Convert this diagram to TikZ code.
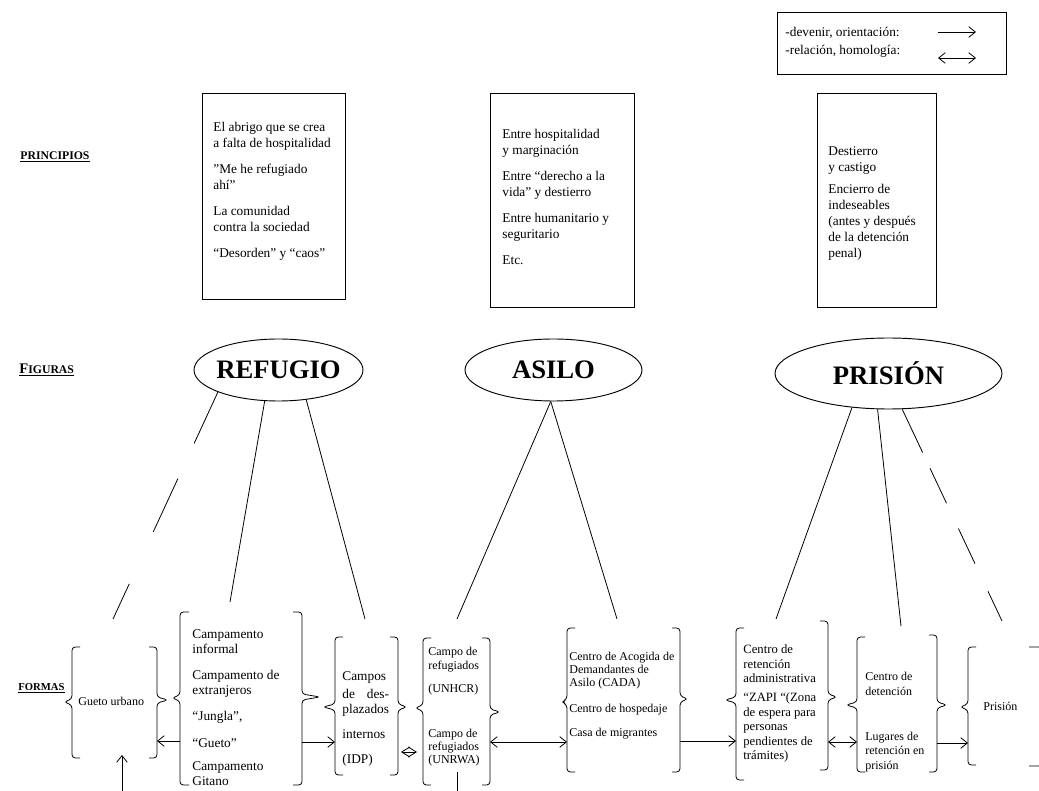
\documentclass[tikz,border=0pt]{standalone}
\usepackage{fontspec}
\setmainfont{Liberation Serif}
\usetikzlibrary{arrows.meta,shapes.geometric}
\newcommand\Lbr[6]{\draw[brc] ({#1+#6},#2) -- (#1,#2) -- (#1,{#4-3}) -- ({#1-#5},#4) -- (#1,{#4+3}) -- (#1,#3) -- ({#1+#6},#3);}
\newcommand\Rbr[6]{\draw[brc] ({#1-#6},#2) -- (#1,#2) -- (#1,{#4-3}) -- ({#1+#5},#4) -- (#1,{#4+3}) -- (#1,#3) -- ({#1-#6},#3);}
\begin{document}
\begin{tikzpicture}[x=0.75pt,y=-0.75pt,
  line width=0.6pt,
  brc/.style={line width=0.6pt, rounded corners=2.5pt},
  pbox/.style={draw, line width=0.7pt, inner sep=0pt},
  ptext/.style={anchor=north west, inner sep=0pt, align=left, font=\fontsize{10}{12}\selectfont},
  fig/.style={draw, ellipse, inner sep=0pt, line width=0.7pt, font=\fontsize{20}{24}\selectfont\bfseries},
  lab/.style={anchor=west, inner sep=0pt, font=\fontsize{8.8}{10}\selectfont\bfseries},
  gtext/.style={anchor=north west, inner sep=0pt, align=left},
  arr/.style={-{Straight Barb[length=5pt,width=8pt]}},
  dar/.style={{Straight Barb[length=5pt,width=8pt]}-{Straight Barb[length=5pt,width=8pt]}},
  dia/.style={{Straight Barb[length=6pt,width=7.5pt]}-{Straight Barb[length=6pt,width=7.5pt]}},
]
\useasboundingbox (0,0) rectangle (1039,791);

% legend
\node[pbox, minimum width=171.75pt, minimum height=46.5pt] (leg) at (891.5,43) {};
\node[ptext, font=\fontsize{10}{13.5}\selectfont] (legt) at (785,27) {-devenir, orientación:\\-relación, homología:};
\coordinate (la1) at (938,32); \coordinate (la2) at (976,32);
\draw[arr] (la1) -- (la2);
\coordinate (lb1) at (938,58); \coordinate (lb2) at (976,58);
\draw[dar] (lb1) -- (lb2);

% row labels
\node[lab] (princ) at (20,157) {\underline{PRINCIPIOS}};
\node[lab, font=\fontsize{11}{12}\selectfont\bfseries] (figs) at (19,370) {\underline{F{\fontsize{8.8}{10}\selectfont IGURAS}}};
\node[lab, font=\fontsize{8}{10}\selectfont\bfseries] (forms) at (18,688) {\underline{FORMAS}};

% principle boxes
\node[pbox, minimum width=107.25pt, minimum height=154.5pt] (b1) at (273.5,196) {};
\node[ptext] (b1t) at (213,122) {El abrigo que se crea\\a falta de hospitalidad\\[7.5pt]”Me he refugiado\\ahí”\\[7.5pt]La comunidad\\contra la sociedad\\[7.5pt]“Desorden” y “caos”};
\node[pbox, minimum width=108pt, minimum height=160.5pt] (b2) at (562,200) {};
\node[ptext] (b2t) at (502,129) {Entre hospitalidad\\y marginación\\[7.5pt]Entre “derecho a la\\vida” y destierro\\[7.5pt]Entre humanitario y\\seguritario\\[7.5pt]Etc.};
\node[pbox, minimum width=89.25pt, minimum height=160.5pt] (b3) at (876.5,200) {};
\node[ptext] (b3t) at (828,146) {Destierro\\y castigo\\[5pt]Encierro de\\indeseables\\(antes y después\\de la detención\\penal)};

% figures
\node[fig, minimum width=126.75pt, minimum height=46.5pt] (ref) at (278.5,370) {\makebox[0pt]{REFUGIO}};
\node[fig, minimum width=132.75pt, minimum height=46.5pt] (asi) at (553.5,370) {\makebox[0pt]{ASILO}};
\node[fig, minimum width=170.25pt, minimum height=53.25pt] (pri) at (888.5,373.5) {\makebox[0pt]{PRISIÓN}};

% lines from figures
\coordinate (e11) at (113,619); \coordinate (e12) at (230,602); \coordinate (e13) at (365,619);
\draw[dash pattern=on 42.5pt off 29pt on 44pt off 43pt on 40pt] (ref.200) -- (e11);
\draw (ref.246) -- (e12);
\draw (ref.313) -- (e13);
\coordinate (e21) at (457,619); \coordinate (e22) at (617,619);
\draw (asi.265) -- (e21);
\draw (asi.265) -- (e22);
\coordinate (e31) at (776,619); \coordinate (e32) at (901,626); \coordinate (e33) at (1002,621);
\draw (pri.223) -- (e31);
\draw (pri.253) -- (e32);
\draw[dash pattern=on 36pt off 13pt on 29pt off 21pt on 29pt off 23pt on 30pt] (pri.291) -- (e33);

% braces
\Lbr{72}{647}{758}{702}{8}{8} \Rbr{157}{647}{758}{700}{11}{8}
\Lbr{180}{612}{785}{698}{8}{9} \Rbr{302}{612}{785}{697}{18}{9}
\Lbr{335}{637}{775}{707}{12}{8} \Rbr{398}{637}{775}{707}{9}{8}
\Lbr{423}{638}{785}{708}{8}{8} \Rbr{490}{638}{785}{712}{10}{8}
\Lbr{567}{628}{772}{702}{5}{8} \Rbr{680}{628}{772}{699}{8}{8}
\Lbr{736}{628}{780}{700}{11}{8} \Rbr{828}{621}{770}{697}{9}{8}
\Lbr{857}{637}{772}{705}{11}{8} \Rbr{937}{635}{772}{705}{10}{8}
\Lbr{968}{647}{765}{707}{8}{8} \Rbr{1042}{647}{766}{707}{8}{13}

% forms texts
\node[gtext, anchor=west, font=\fontsize{9}{11}\selectfont] (g1) at (78,701) {Gueto urbano};
\node[gtext, font=\fontsize{10}{11.5}\selectfont] (g2) at (192,629) {Campamento\\informal\\[8pt]Campamento de\\extranjeros\\[8pt]“Jungla”,\\[8.5pt]“Gueto”\\[5.5pt]Campamento\\Gitano};
\node[gtext, font=\fontsize{10}{11.5}\selectfont] (g3) at (342,671) {Campos\\[2pt]\makebox[35pt][s]{de des-}\\plazados\\[7.25pt]internos\\[7.25pt](IDP)};
\node[gtext, font=\fontsize{9}{10}\selectfont] (g4) at (428,647) {Campo de\\refugiados\\[7.25pt](UNHCR)\\[23.75pt]Campo de\\refugiados\\(UNRWA)};
\node[gtext, font=\fontsize{9}{9.75}\selectfont] (g5) at (569,652) {Centro de Acogida de\\Demandantes de\\Asilo (CADA)\\[9.75pt]Centro de hospedaje\\[8.25pt]Casa de migrantes};
\node[gtext, font=\fontsize{9.5}{10.9}\selectfont] (g6) at (743,644.5) {Centro de\\retención\\administrativa\\[3.4pt]“ZAPI “(Zona\\de espera para\\personas\\pendientes de\\trámites)};
\node[gtext, font=\fontsize{9}{11}\selectfont] (g7) at (865,672) {Centro de\\detención\\[22.7pt]Lugares de\\retención en\\prisión};
\node[gtext, anchor=west, font=\fontsize{9}{11}\selectfont] (g8) at (983,706) {Prisión};

% connectors between forms
\coordinate (g1r) at (157,741); \coordinate (g2l) at (180,741);
\coordinate (g2r) at (302,742); \coordinate (g3l) at (335,742);
\coordinate (g3d) at (401,752); \coordinate (g4d) at (417,752);
\coordinate (g4r) at (490,742); \coordinate (g5l) at (567,742);
\coordinate (g5r) at (680,741); \coordinate (g6l) at (736,741);
\coordinate (g6r) at (828,742); \coordinate (g7l) at (857,742);
\coordinate (g7r) at (937,743); \coordinate (g8l) at (968,743);
\draw[arr] (g2l) -- (g1r);
\draw[arr] (g2r) -- (g3l);
\draw[dia] (g3d) -- (g4d);
\draw[dar] (g4r) -- (g5l);
\draw[arr] (g5r) -- (g6l);
\draw[dar] (g6r) -- (g7l);
\draw[arr] (g7r) -- (g8l);

% connectors leaving the picture
\coordinate (bot1) at (122,795); \coordinate (g1b) at (122,755);
\draw[arr] (bot1) -- (g1b);
\coordinate (g4b) at (457,772); \coordinate (bot2) at (457,795);
\draw (g4b) -- (bot2);
\end{tikzpicture}
\end{document}
